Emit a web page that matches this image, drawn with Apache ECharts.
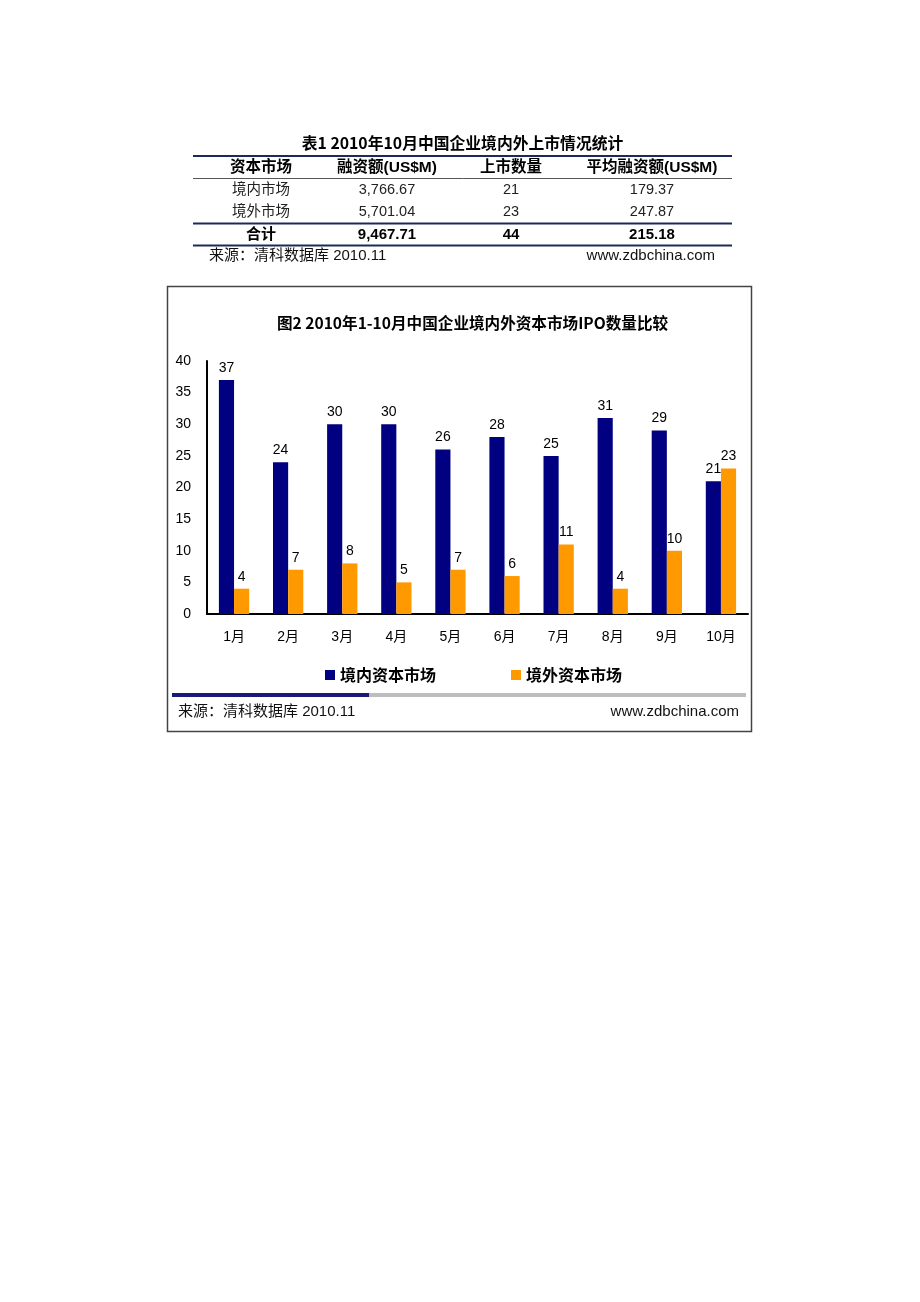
<!DOCTYPE html>
<html><head><meta charset="utf-8">
<script src="https://cdn.jsdelivr.net/npm/echarts@6/dist/echarts.min.js"></script>
<style>html,body{margin:0;padding:0;background:#fff}#c{width:920px;height:1302px}</style>
</head><body><div id="c"></div>
<script>
// ---- data ----
const tableTitle = '表1 2010年10月中国企业境内外上市情况统计';
const tableHeader = ['资本市场', '融资额(US$M)', '上市数量', '平均融资额(US$M)'];
const tableMarkets = ['境内市场', '境外市场'];
const tableAmount = ['3,766.67', '5,701.04'];
const tableCount = ['21', '23'];
const tableAvg = ['179.37', '247.87'];
const tableTotal = ['合计', '9,467.71', '44', '215.18'];
const sourceText = '来源：清科数据库 2010.11';
const siteText = 'www.zdbchina.com';

const chartTitle = '图2 2010年1-10月中国企业境内外资本市场IPO数量比较';
const months = ['1月', '2月', '3月', '4月', '5月', '6月', '7月', '8月', '9月', '10月'];
const seriesNames = ['境内资本市场', '境外资本市场'];
const domestic = [37, 24, 30, 30, 26, 28, 25, 31, 29, 21];
const overseas = [4, 7, 8, 5, 7, 6, 11, 4, 10, 23];

// ---- styles / layout ----
const FONT = '"Liberation Sans", "Noto Sans CJK SC", sans-serif';
const CJK = '"Noto Sans CJK SC", "Liberation Sans", sans-serif';
const NAVY = '#000080';
const ORANGE = '#FF9900';
const colX = [261, 387, 511, 652];

const graphics = [];
function txt(x, y, s, opt) {
  opt = opt || {};
  graphics.push({
    type: 'text', x: x, y: y, silent: true,
    style: {
      text: s, fill: opt.color || '#000',
      font: (opt.bold ? 'bold ' : '') + (opt.size || 14) + 'px ' + (opt.family || FONT),
      textAlign: opt.align || 'center', textVerticalAlign: 'middle'
    }
  });
}
function hline(x1, x2, y, w, color) {
  graphics.push({ type: 'line', silent: true,
    shape: { x1: x1, y1: y, x2: x2, y2: y },
    style: { stroke: color, lineWidth: w } });
}

// table
txt(462.5, 143, tableTitle, { bold: true, size: 15.8, family: CJK });
hline(193, 732, 156, 2, '#1c2a5a');
tableHeader.forEach((h, i) => txt(colX[i], 168, h, { bold: true, size: 15.5 }));
hline(193, 732, 178.5, 1, '#555');
const rows = [tableMarkets, tableAmount, tableCount, tableAvg];
[0, 1].forEach(r => {
  rows.forEach((col, i) => txt(colX[i], 190 + r * 22, col[r], { size: 14.5, color: '#222' }));
});
hline(193, 732, 223.5, 2, '#1c2a5a');
tableTotal.forEach((t, i) => txt(colX[i], 235, t, { bold: true, size: 15 }));
hline(193, 732, 245.5, 2, '#1c2a5a');
txt(209, 256, sourceText, { size: 15, align: 'left', color: '#111' });
txt(715, 256, siteText, { size: 15, align: 'right', color: '#111' });

// chart box
graphics.push({ type: 'rect', silent: true, shape: { x: 167.5, y: 286.5, width: 584, height: 445 },
  style: { fill: 'none', stroke: '#444', lineWidth: 1.5 } });
txt(472.5, 323, chartTitle, { bold: true, size: 15.6, family: CJK });
graphics.push({ type: 'rect', silent: true, shape: { x: 172, y: 693, width: 197, height: 4 }, style: { fill: '#1a1a7a' } });
graphics.push({ type: 'rect', silent: true, shape: { x: 369, y: 693, width: 377, height: 4 }, style: { fill: '#bdbdbd' } });
txt(178, 712, sourceText, { size: 15, align: 'left', color: '#111' });
txt(739, 712, siteText, { size: 15, align: 'right', color: '#111' });

const chart = echarts.init(document.getElementById('c'), null, { renderer: 'canvas' });
chart.setOption({
  animation: false,
  backgroundColor: '#fff',
  graphic: graphics,
  legend: {
    data: seriesNames, left: 325, top: 667, padding: 0, icon: 'rect', itemWidth: 10, itemHeight: 10, itemGap: 75,
    textStyle: { fontFamily: CJK, fontWeight: 'bold', fontSize: 16, color: '#000' }
  },
  grid: { left: 207, right: 172, top: 361, bottom: 688, containLabel: false },
  xAxis: {
    type: 'category', data: months,
    axisLine: { lineStyle: { color: '#000', width: 2 } },
    axisTick: { inside: true, length: 4, lineStyle: { color: '#000', width: 2 } },
    axisLabel: { margin: 16, fontSize: 14, color: '#000', fontFamily: FONT }
  },
  yAxis: {
    type: 'value', min: 0, max: 40, interval: 5,
    splitLine: { show: false },
    axisLine: { show: true, lineStyle: { color: '#000', width: 2 } },
    axisTick: { show: false },
    axisLabel: { margin: 16, fontSize: 14, color: '#000', fontFamily: FONT }
  },
  series: [
    { name: seriesNames[0], type: 'bar', data: domestic, itemStyle: { color: NAVY }, barGap: '0%', barCategoryGap: '44%',
      label: { show: true, position: 'top', distance: 5, fontSize: 14, color: '#000', fontFamily: FONT } },
    { name: seriesNames[1], type: 'bar', data: overseas, itemStyle: { color: ORANGE },
      label: { show: true, position: 'top', distance: 5, fontSize: 14, color: '#000', fontFamily: FONT } }
  ]
});
</script></body></html>
